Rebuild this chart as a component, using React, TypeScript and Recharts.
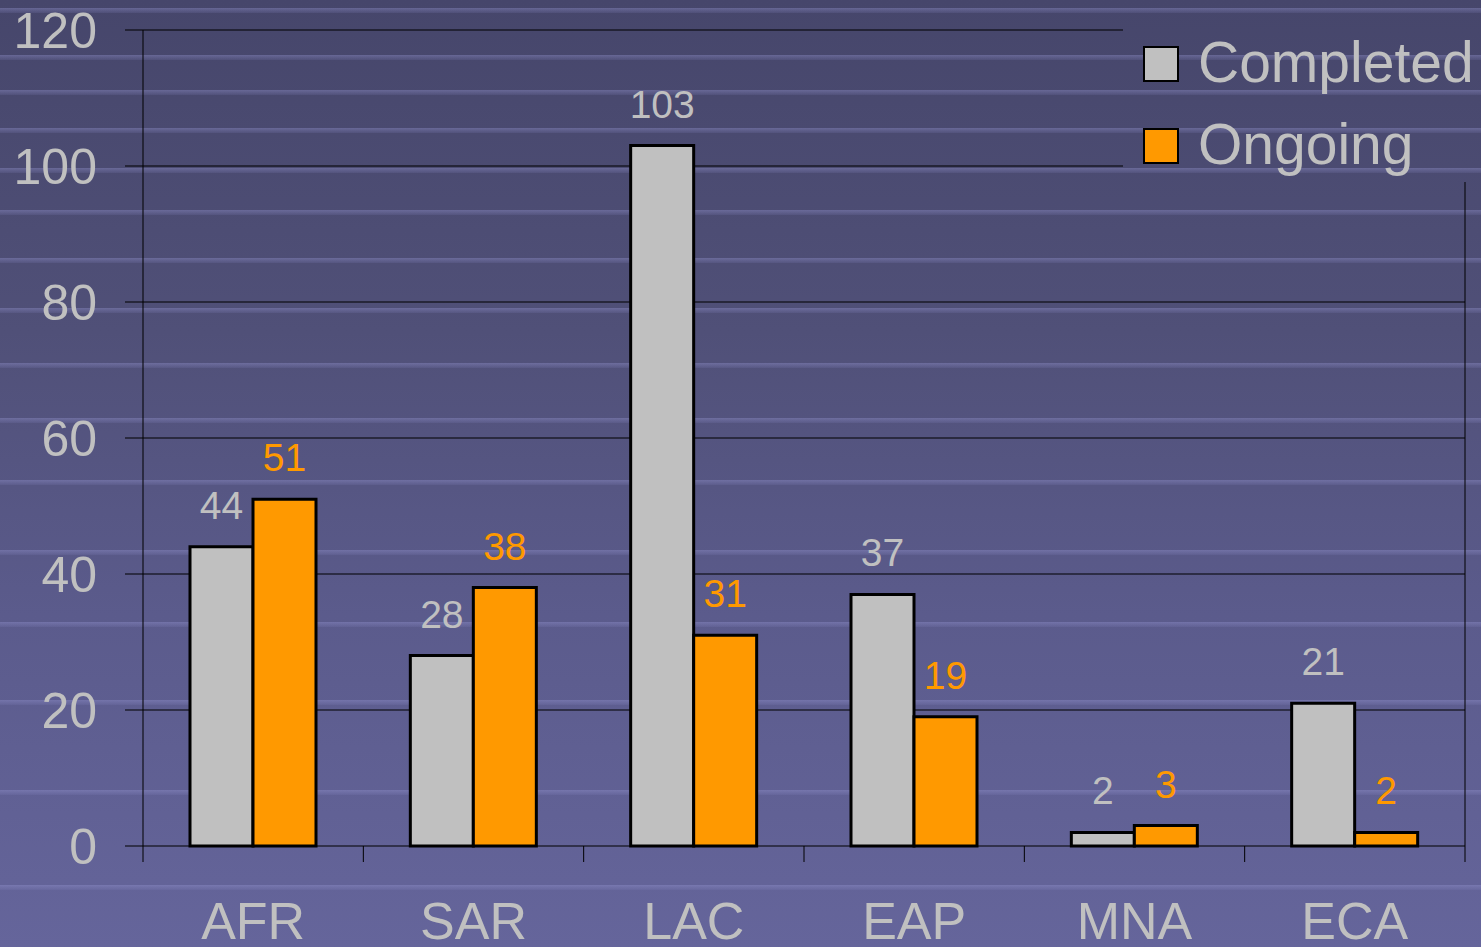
import { BarChart, Bar, XAxis, YAxis, CartesianGrid, Legend, LabelList } from 'recharts';

const regions = ['AFR', 'SAR', 'LAC', 'EAP', 'MNA', 'ECA'];
const completed = [44, 28, 103, 37, 2, 21];
const ongoing = [51, 38, 31, 19, 3, 2];
const yTicks = [0, 20, 40, 60, 80, 100, 120];

// light horizontal bands of the slide background (page y, px)
const stripeRows = [8, 55, 90, 128, 168, 210, 258, 308, 363, 418, 480, 550, 622, 700, 790, 885];

const data = regions.map((region, i) => ({
  region,
  completed: completed[i],
  ongoing: ongoing[i],
}));

const GREY = '#c0c0c0';
const ORANGE = '#ff9900';
const FONT = '"Liberation Sans", Arial, sans-serif';

const stripeLayers = stripeRows.map(
  (y) =>
    `linear-gradient(to bottom, transparent ${y}px, rgba(150,150,210,0.4) ${y}px, rgba(130,130,190,0.15) ${y + 5}px, transparent ${y + 5}px)`
);

const slideBg = {
  backgroundImage: [...stripeLayers, 'linear-gradient(to bottom, #46466b 0%, #505078 35%, #5b5b8c 65%, #65659b 100%)'].join(','),
  backgroundAttachment: 'fixed',
};

// label at band centre, tick marks on the band boundaries (excel style)
function RegionTick({ x, y, payload, index, visibleTicksCount }: any) {
  const half = payload.offset || 0;
  const isLast = index === visibleTicksCount - 1;
  return (
    <g>
      <line x1={x - half} x2={x - half} y1={y} y2={y + 16} stroke="#000" />
      {isLast && <line x1={x + half} x2={x + half} y1={y} y2={y + 16} stroke="#000" />}
      <text x={x} y={y + 93} textAnchor="middle" fill={GREY} fontSize={52} fontFamily={FONT}>
        {payload.value}
      </text>
    </g>
  );
}

function LegendBox() {
  const rows = [
    { name: 'Completed', color: GREY, top: 46 },
    { name: 'Ongoing', color: ORANGE, top: 128 },
  ];
  return (
    <div style={{ position: 'relative', width: 358, height: 182 }}>
      {rows.map((r) => (
        <div key={r.name}>
          <div
            style={{
              position: 'absolute',
              left: 20,
              top: r.top,
              width: 32,
              height: 32,
              background: r.color,
              border: '2px solid #000',
            }}
          />
          <div
            style={{
              position: 'absolute',
              left: 75,
              top: r.top - 12,
              fontSize: 57,
              lineHeight: '57px',
              color: GREY,
              fontFamily: FONT,
              whiteSpace: 'nowrap',
            }}
          >
            {r.name}
          </div>
        </div>
      ))}
    </div>
  );
}

export default function App() {
  return (
    <div style={{ position: 'absolute', left: 0, top: 0, width: 1481, height: 947, ...slideBg }}>
      <BarChart
        width={1481}
        height={947}
        data={data}
        margin={{ top: 30, right: 0, left: 0, bottom: 0 }}
        barSize={63}
        barGap={0}
      >
        <CartesianGrid vertical={false} stroke="#000" strokeWidth={1} />
        <XAxis
          dataKey="region"
          height={101}
          axisLine={false}
          tickLine={false}
          tickSize={0}
          tickMargin={0}
          tick={<RegionTick />}
          interval={0}
        />
        <YAxis
          width={143}
          domain={[0, 120]}
          ticks={yTicks}
          tickSize={18}
          tickMargin={28}
          axisLine={{ stroke: '#000' }}
          tickLine={{ stroke: '#000' }}
          tick={{ fill: GREY, fontSize: 50, fontFamily: FONT }}
        />
        <YAxis
          yAxisId="frame"
          orientation="right"
          width={16}
          domain={[0, 120]}
          tick={false}
          tickLine={false}
          axisLine={{ stroke: '#000' }}
        />
        <Legend
          layout="vertical"
          align="center"
          verticalAlign="middle"
          content={<LegendBox />}
          wrapperStyle={{ top: 0, left: 1123, width: 358, height: 182, ...slideBg }}
        />
        <Bar
          dataKey="completed"
          name="Completed"
          fill={GREY}
          stroke="#000"
          strokeWidth={3}
          isAnimationActive={false}
        >
          <LabelList dataKey="completed" position="top" offset={28} fill={GREY} fontSize={39} fontFamily={FONT} />
        </Bar>
        <Bar
          dataKey="ongoing"
          name="Ongoing"
          fill={ORANGE}
          stroke="#000"
          strokeWidth={3}
          isAnimationActive={false}
        >
          <LabelList dataKey="ongoing" position="top" offset={28} fill={ORANGE} fontSize={39} fontFamily={FONT} />
        </Bar>
      </BarChart>
    </div>
  );
}
